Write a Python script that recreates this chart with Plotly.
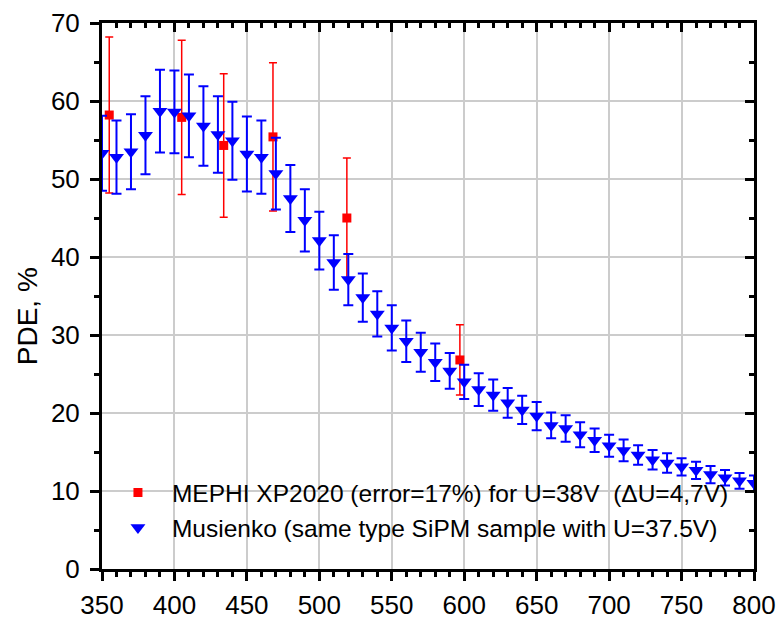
import plotly.graph_objects as go

# Musienko (same type SiPM sample, U=37.5V)
mus_x = [350, 360, 370, 380, 390, 400, 410, 420, 430, 440, 450, 460, 470, 480, 490,
         500, 510, 520, 530, 540, 550, 560, 570, 580, 590, 600, 610, 620, 630, 640,
         650, 660, 670, 680, 690, 700, 710, 720, 730, 740, 750, 760, 770, 780, 790, 800]
mus_y = [53.3, 52.8, 53.5, 55.6, 58.7, 58.6, 58.1, 56.8, 55.7, 54.9, 53.2, 52.8, 50.7, 47.5, 44.7,
         42.1, 39.3, 37.1, 34.8, 32.7, 30.9, 29.2, 27.8, 26.5, 25.4, 24.0, 23.0, 22.3, 21.3, 20.4,
         19.6, 18.4, 18.0, 17.2, 16.5, 15.8, 15.2, 14.6, 14.0, 13.6, 13.1, 12.65, 12.1, 11.7, 11.3, 11.0]
mus_err = [4.8, 4.7, 4.8, 5.0, 5.3, 5.3, 5.3, 5.1, 4.9, 5.0, 4.8, 4.7, 4.6, 4.3, 4.0,
           3.7, 3.5, 3.3, 3.1, 2.9, 2.9, 2.65, 2.5, 2.4, 2.3, 2.2, 2.1, 2.0, 1.9, 1.8,
           1.8, 1.65, 1.7, 1.6, 1.5, 1.4, 1.4, 1.25, 1.25, 1.25, 1.1, 1.1, 1.1, 1.0, 1.0, 1.0]

# MEPHI XP2020 (error = 17%)
mephi_x = [355, 405, 434, 468, 519, 597]
mephi_y = [58.2, 57.9, 54.3, 55.4, 45.0, 26.8]
mephi_err = [10.0, 9.9, 9.2, 9.5, 7.7, 4.5]

x_ticks = [350, 400, 450, 500, 550, 600, 650, 700, 750, 800]
y_ticks = [0, 10, 20, 30, 40, 50, 60, 70]

name_mephi = "MEPHI XP2020 (error=17%) for U=38V  (\u0394U=4,7V)"
name_mus = "Musienko (same type SiPM sample with U=37.5V)"

FONT = "Liberation Sans, Arial, sans-serif"

fig = go.Figure()
fig.add_trace(go.Scatter(
    x=mephi_x, y=mephi_y, mode="markers", name=name_mephi, legendgroup="a",
    marker=dict(symbol="square", size=9, color="#ff0000"),
    error_y=dict(type="data", array=mephi_err, color="#ff0000", thickness=1.5, width=4),
))
fig.add_trace(go.Scatter(
    x=mus_x, y=mus_y, mode="markers", name=name_mus, legendgroup="b",
    marker=dict(symbol="triangle-down", size=13, color="#0000ff"),
    error_y=dict(type="data", array=mus_err, color="#0000ff", thickness=2, width=5),
))
# empty helper trace so the top/right frame axes form a real subplot
fig.add_trace(go.Scatter(x=[], y=[], xaxis="x2", yaxis="y2", showlegend=False,
                         hoverinfo="skip", mode="markers"))

tick_common = dict(ticklen=9, tickwidth=3, tickcolor="black")
minor_common = dict(ticklen=5, tickwidth=3, tickcolor="black")

fig.update_layout(
    width=778, height=619,
    margin=dict(l=102, r=24, t=23, b=50),
    plot_bgcolor="white", paper_bgcolor="white",
    font=dict(family=FONT, color="black"),
    showlegend=True,
    legend=dict(x=0.003, y=0.181, xanchor="left", yanchor="top",
                bgcolor="rgba(0,0,0,0)", font=dict(size=24.5, family=FONT),
                traceorder="grouped", tracegroupgap=0, itemwidth=58),
    xaxis=dict(range=[350, 800], tickvals=x_ticks, ticks="outside", **tick_common,
               minor=dict(dtick=10, tick0=350, ticks="outside", showgrid=False, **minor_common),
               showline=True, linewidth=3, linecolor="black", mirror=False,
               showgrid=True, gridcolor="#cccccc", gridwidth=1.5, zeroline=False,
               tickfont=dict(size=26), ticklabelstandoff=2, automargin=False),
    yaxis=dict(range=[0, 70], tickvals=y_ticks, ticks="outside", **tick_common,
               minor=dict(dtick=5, tick0=0, ticks="outside", showgrid=False, **minor_common),
               showline=True, linewidth=3, linecolor="black", mirror=False,
               showgrid=True, gridcolor="#cccccc", gridwidth=1.5, zeroline=False,
               tickfont=dict(size=26), ticklabelstandoff=5, automargin=False),
    xaxis2=dict(range=[350, 800], overlaying="x", side="top", anchor="y2", tickvals=x_ticks,
                ticks="inside", **tick_common, showticklabels=False, automargin=False,
                minor=dict(dtick=10, tick0=350, ticks="inside", showgrid=False, **minor_common),
                showline=True, linewidth=3, linecolor="black", showgrid=False, zeroline=False),
    yaxis2=dict(range=[0, 70], overlaying="y", side="right", anchor="x2", tickvals=y_ticks,
                ticks="inside", **tick_common, showticklabels=False, automargin=False,
                minor=dict(dtick=5, tick0=0, ticks="inside", showgrid=False, **minor_common),
                showline=True, linewidth=3, linecolor="black", showgrid=False, zeroline=False),
    annotations=[dict(text="PDE, %", xref="paper", yref="paper", x=-0.115, y=0.463,
                      xanchor="center", yanchor="middle",
                      textangle=-90, showarrow=False, font=dict(size=28, family=FONT))],
)

fig.write_html("out.html")
